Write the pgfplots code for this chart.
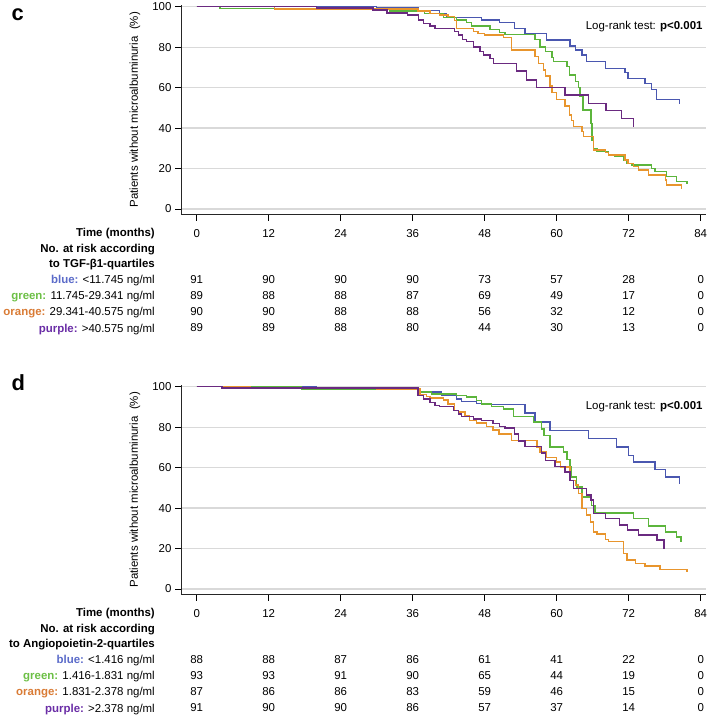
\documentclass[border=0pt]{standalone}
\usepackage{fontspec}
\setmainfont{Liberation Sans}
\usepackage{pgfplots}
\pgfplotsset{compat=1.18}
\newcommand\fs{\fontsize{11.5}{13.8}\selectfont}
\definecolor{cblue}{HTML}{4A57B0}
\definecolor{cgreen}{HTML}{5CB53C}
\definecolor{corange}{HTML}{E8952D}
\definecolor{cpurple}{HTML}{6A2A80}
\definecolor{lblue}{HTML}{5B6BC9}
\definecolor{lgreen}{HTML}{6CBF45}
\definecolor{lorange}{HTML}{D97B35}
\definecolor{lpurple}{HTML}{6A2DA6}
\pgfplotsset{
 km/.style={
  x=6bp, y=2.023bp,
  xmin=-2.62, xmax=84.9, ymin=-2.72, ymax=100.8,
  axis x line*=bottom, axis y line*=left,
  xtick={0,12,...,84}, ytick={0,20,...,100},
  ymajorgrids, grid style={draw=black!15, line width=1.3bp},
  tick align=outside, major tick length=6bp,
  every tick/.style={black, line width=0.9bp},
  axis line style={black!85, line width=1bp},
  tick label style={font=\fs},
  /pgf/number format/assume math mode=true,
  x tick label style={anchor=base, yshift=-17.3bp},
  ylabel={Patients without microalbuminuria\ \ (\%)},
  ylabel style={at={(axis description cs:-0.0876,0.5)}, anchor=center, font=\fs},
  clip=false,
  anchor=south west,
 },
 kml/.style={const plot, line width=1.5bp, mark=none},
 risk/.style={draw=none, mark=none, nodes near coords, point meta=explicit symbolic,
   every node near coord/.append style={anchor=center, font=\fs, text=black}},
}
\begin{document}
\begin{tikzpicture}
\useasboundingbox (0,0) rectangle (711bp,-716bp);
% ---------------- panel c ----------------
\node[anchor=base west, inner sep=0pt, font=\fontsize{22}{24}\selectfont\bfseries] at (11.5bp,-20bp) {c};
\begin{axis}[km, at={(181bp,-214.5bp)}]
\addplot[kml, cblue] coordinates {(0,100) (30,99.3) (36.9,98) (40.5,96.7) (41.6,94.7) (47.5,93.4) (50.5,92.1) (53,89.3) (54.7,86.8) (58.3,83.5) (62.2,80.6) (63.1,78.6) (64.2,76.1) (65,72.8) (68.1,69.5) (71.4,67.4) (71.9,64.6) (74.7,62.1) (75.8,59.1) (76.6,54.2) (80.5,51.9)};
\addplot[kml, cgreen] coordinates {(0,100) (3.9,99) (32.2,97.9) (38,96.7) (41.1,94.7) (43.3,93.4) (45,92.1) (45.8,90.5) (48.9,88.8) (50.5,87.2) (51.4,86.3) (56.4,83.9) (57.2,80.2) (58.1,77.8) (59.2,75) (59.5,72.8) (61.7,70.4) (62.1,66.2) (63.1,63) (63.6,60.1) (63.9,55.5) (64.4,49) (65.7,42.3) (65.9,34.1) (66.1,30) (66.7,28.3) (68.6,26.7) (69.7,25.9) (71.1,24.2) (71.7,22.6) (72.5,21.8) (75.8,20.1) (76.4,18.5) (78.3,16) (80,13.5) (81.7,12.2)};
\addplot[kml, corange] coordinates {(0,100) (13,98.8) (36.9,97.9) (38.9,96.7) (40.5,95.9) (41.9,95.1) (43,93.1) (43.3,89.3) (46.1,87.7) (46.9,86.8) (48,86) (51.1,84.8) (52.5,78.6) (56.4,75.3) (57,72) (57.8,68.7) (58.1,65.7) (58.9,60.8) (59.2,57.5) (60,54.2) (61.4,50.9) (62.1,46.5) (62.5,43.7) (62.8,40.7) (64.2,38.2) (64.5,35.8) (66.1,29.2) (68.1,27.9) (68.6,26.7) (71.4,24.2) (71.9,22.6) (72.8,20.9) (73.6,19.3) (75.3,16.8) (78.1,14.3) (78.3,11.9) (80.8,9.7)};
\addplot[kml, cpurple] coordinates {(0,100) (20,99.3) (29.4,98.4) (31.7,97) (35.1,95.9) (37,93.5) (37.8,91.8) (38.9,90.5) (39.7,89.3) (43,87.7) (43.6,86) (44.3,83.9) (45,82.7) (46.1,80.2) (47.2,77.8) (47.8,76.1) (48.9,74.5) (49.5,72) (53.3,68.2) (55,63.8) (56.6,60.1) (61.4,56.3) (65.3,52.2) (68.2,48.6) (70.8,44.8) (72.8,40.7)};
\addplot[risk] coordinates {(0,-34.85)[91] (12,-34.85)[90] (24,-34.85)[90] (36,-34.85)[90] (48,-34.85)[73] (60,-34.85)[57] (72,-34.85)[28] (84,-34.85)[0]};
\addplot[risk] coordinates {(0,-42.76)[89] (12,-42.76)[88] (24,-42.76)[88] (36,-42.76)[87] (48,-42.76)[69] (60,-42.76)[49] (72,-42.76)[17] (84,-42.76)[0]};
\addplot[risk] coordinates {(0,-50.67)[90] (12,-50.67)[90] (24,-50.67)[88] (36,-50.67)[88] (48,-50.67)[56] (60,-50.67)[32] (72,-50.67)[12] (84,-50.67)[0]};
\addplot[risk] coordinates {(0,-58.82)[89] (12,-58.82)[89] (24,-58.82)[88] (36,-58.82)[80] (48,-58.82)[44] (60,-58.82)[30] (72,-58.82)[13] (84,-58.82)[0]};
\end{axis}
\node[anchor=base east, inner sep=0pt, font=\fs] at (702.7bp,-29.8bp) {Log-rank test: \textbf{p<0.001}};
\begin{scope}[every node/.style={anchor=base east, font=\fs, inner sep=0pt}]
\node at (155bp,-236.8bp) {\textbf{Time (months)}};
\node at (155bp,-252.4bp) {\textbf{No. at risk according}};
\node at (155bp,-267.6bp) {\textbf{to TGF-β1-quartiles}};
\node at (155bp,-283.6bp) {\textbf{\color{lblue}blue:} <11.745 ng/ml};
\node at (155bp,-299.6bp) {\textbf{\color{lgreen}green:} 11.745-29.341 ng/ml};
\node at (155bp,-315.6bp) {\textbf{\color{lorange}orange:} 29.341-40.575 ng/ml};
\node at (155bp,-332.1bp) {\textbf{\color{lpurple}purple:} >40.575 ng/ml};
\end{scope}
% ---------------- panel d ----------------
\node[anchor=base west, inner sep=0pt, font=\fontsize{22}{24}\selectfont\bfseries] at (11.5bp,-390bp) {d};
\begin{axis}[km, at={(181bp,-594.5bp)}]
\addplot[kml, cblue] coordinates {(0,100) (20,99.3) (36.9,97.3) (40.8,95.6) (43.3,94) (44.1,92.8) (46.6,91.8) (49.1,91.2) (54.7,86.9) (56.4,82.5) (58.9,78.4) (65.3,74.3) (70,70.2) (72,66.1) (72.8,62.8) (76.4,59) (78.1,55.4) (80.5,51.8)};
\addplot[kml, cgreen] coordinates {(0,100) (17.5,98.8) (37.2,97.3) (39.1,96.4) (43.3,95.6) (45,94.8) (46.6,93.1) (47.5,91.5) (49.1,90.2) (51.1,89) (52.8,85.3) (56.1,82.5) (57.5,79.2) (57.9,75.9) (58.9,70.2) (61.1,67.7) (61.7,63.9) (62.2,60.6) (62.5,55.4) (63.3,50.5) (64.2,45.5) (65.8,41.4) (66.4,37.6) (72.8,34.9) (75.3,31.1) (78.1,28.3) (80,25.8) (80.7,23.4)};
\addplot[kml, corange] coordinates {(0,100) (9,99.3) (30,98.9) (37.2,96.1) (38.3,95.1) (38.9,94.5) (41.1,93.5) (41.9,91.5) (43,88.2) (43.6,87.4) (44.7,85.8) (45.5,83.3) (46.6,82) (48.3,80.3) (49.4,78.7) (50.4,76.7) (52.5,73.4) (56.7,70.2) (57.2,67.7) (58.3,64.9) (60,62.8) (60.6,60.3) (62.2,53.7) (63.1,51.3) (63.6,47.2) (64.2,39.8) (65,36.5) (65.6,33.2) (66.1,28.3) (66.7,27.1) (68.1,24.5) (68.6,23.4) (71.1,17.6) (71.7,14.3) (73.1,12.7) (74.7,11.4) (77.2,9.6) (81.7,8.4)};
\addplot[kml, cpurple] coordinates {(0,100) (4.2,99.4) (36.9,95.6) (37.8,94) (38.9,92.3) (39.7,90.7) (40.5,90.2) (42.8,88.2) (43.6,86.6) (44.1,85.3) (46.1,84.1) (47.5,83.3) (49.4,81.7) (50.5,80.3) (51.4,79.5) (53,76.7) (53.6,73.1) (54.7,70.5) (57.5,67.2) (58.1,63.6) (59.7,60.6) (61.4,57.8) (62.2,53.7) (62.8,49.6) (65,46.4) (65.7,43.9) (66.1,37.3) (68.1,34.9) (70.5,31.6) (71.8,29.1) (73.6,26.6) (76.7,24.2) (77.9,19.6)};
\addplot[risk] coordinates {(0,-34.85)[88] (12,-34.85)[88] (24,-34.85)[87] (36,-34.85)[86] (48,-34.85)[61] (60,-34.85)[41] (72,-34.85)[22] (84,-34.85)[0]};
\addplot[risk] coordinates {(0,-42.76)[93] (12,-42.76)[93] (24,-42.76)[91] (36,-42.76)[90] (48,-42.76)[65] (60,-42.76)[44] (72,-42.76)[19] (84,-42.76)[0]};
\addplot[risk] coordinates {(0,-50.67)[87] (12,-50.67)[86] (24,-50.67)[86] (36,-50.67)[83] (48,-50.67)[59] (60,-50.67)[46] (72,-50.67)[15] (84,-50.67)[0]};
\addplot[risk] coordinates {(0,-58.82)[91] (12,-58.82)[90] (24,-58.82)[90] (36,-58.82)[86] (48,-58.82)[57] (60,-58.82)[37] (72,-58.82)[14] (84,-58.82)[0]};
\end{axis}
\node[anchor=base east, inner sep=0pt, font=\fs] at (702.7bp,-409.8bp) {Log-rank test: \textbf{p<0.001}};
\begin{scope}[every node/.style={anchor=base east, font=\fs, inner sep=0pt}]
\node at (155bp,-616.8bp) {\textbf{Time (months)}};
\node at (155bp,-632.4bp) {\textbf{No. at risk according}};
\node at (155bp,-647.6bp) {\textbf{to Angiopoietin-2-quartiles}};
\node at (155bp,-663.6bp) {\textbf{\color{lblue}blue:} <1.416 ng/ml};
\node at (155bp,-679.6bp) {\textbf{\color{lgreen}green:} 1.416-1.831 ng/ml};
\node at (155bp,-695.6bp) {\textbf{\color{lorange}orange:} 1.831-2.378 ng/ml};
\node at (155bp,-712.1bp) {\textbf{\color{lpurple}purple:} >2.378 ng/ml};
\end{scope}
\end{tikzpicture}
\end{document}
